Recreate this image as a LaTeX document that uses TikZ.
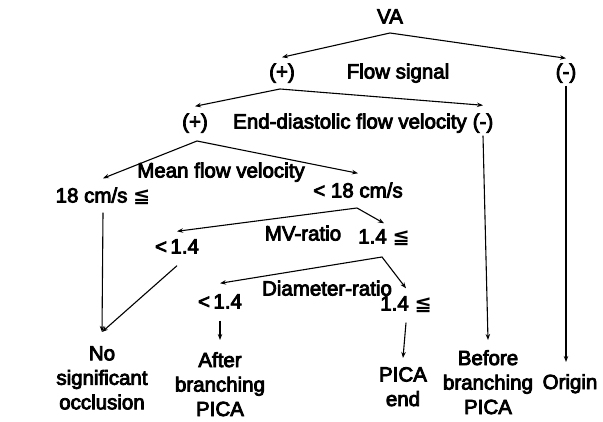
\documentclass[tikz,border=0pt]{standalone}
\usepackage{fontspec}
\setmainfont{Liberation Sans}
\newfontfamily\diagfam{Liberation Sans}[FakeBold=4]
\newfontfamily\symfont{DejaVu Sans}
\usetikzlibrary{arrows.meta}
\newcommand{\diagfont}{\diagfam\fontsize{20.5}{24.5}\selectfont}
\newcommand{\leqqmark}{{\symfont\bfseries ≦}}
\tikzset{
  lbl/.style={font=\diagfont,inner sep=0pt,text height=15pt,text depth=4pt},
  outcome/.style={font=\diagfont,inner sep=0pt,align=center,anchor=north},
  fork/.style={{Stealth[length=6pt,width=4.5pt]}-{Stealth[length=6pt,width=4.5pt]},line width=1.1pt},
  arr/.style={-{Stealth[length=6pt,width=4.5pt]},line width=1.1pt}
}
\begin{document}
\begin{tikzpicture}[x=1pt,y=1pt]
  \useasboundingbox (0,0) rectangle (603,422);

  \node[lbl] (va) at (390,404) {VA};
  \node[lbl] (plusA) at (282,349) {(+)};
  \node[lbl] (flowSig) at (398,349) {Flow signal};
  \node[lbl] (minusA) at (566,349) {(-)};
  \node[lbl] (plusB) at (195,299) {(+)};
  \node[lbl] (edfv) at (350,299) {End-diastolic flow velocity};
  \node[lbl] (minusB) at (483,299) {(-)};
  \node[lbl] (meanFv) at (221,250) {Mean flow velocity};
  \node[lbl] (geA) at (103,225) {18 cm/s \leqqmark};
  \node[lbl] (ltA) at (358,230) {< 18 cm/s};
  \node[lbl] (mvRatio) at (303,187) {MV-ratio};
  \node[lbl] (ltB) at (177,174) {<\,1.4};
  \node[lbl] (geB) at (384,184) {1.4 \leqqmark};
  \node[lbl] (diamRatio) at (327,132) {Diameter-ratio};
  \node[lbl] (ltC) at (220,119) {<\,1.4};
  \node[lbl] (geC) at (406,117) {1.4 \leqqmark};

  \node[outcome] (noOcc) at (102,76) {No\\significant\\occlusion};
  \node[outcome] (afterPica) at (220,70) {After\\branching\\PICA};
  \node[outcome] (picaEnd) at (403,55) {PICA\\end};
  \node[outcome] (beforePica) at (488,72) {Before\\branching\\PICA};
  \node[outcome] (origin) at (570,48) {Origin};

  \coordinate (forkA) at (390,389);
  \coordinate (forkB) at (280,333);
  \coordinate (forkC) at (197,281);
  \coordinate (forkD) at (357,214);
  \coordinate (forkE) at (382,165);
  \coordinate (noTip) at ([yshift=14pt]noOcc.north);

  \draw[fork] ([yshift=6pt]plusA.north) -- (forkA) -- ([yshift=5pt]minusA.north);
  \draw[fork] ([yshift=7pt]plusB.north) -- (forkB) -- ([yshift=8pt]minusB.north);
  \draw[fork] ([yshift=9pt]geA.north) -- (forkC) -- ([yshift=9pt]ltA.north);
  \draw[fork] ([yshift=7pt]ltB.north) -- (forkD) -- ([yshift=5pt]geB.north);
  \draw[fork] ([yshift=10pt]ltC.north) -- (forkE) -- ([yshift=7pt]geC.north);

  \draw[arr] ([yshift=-6pt]geA.south) -- (noTip);
  \draw[arr] ([yshift=-8pt]ltB.south) -- (noTip);
  \draw[arr] ([yshift=-8pt]ltC.south) -- ([yshift=12pt]afterPica.north);
  \draw[arr] ([yshift=-8pt]geC.south) -- ([yshift=9pt]picaEnd.north);
  \draw[arr] ([yshift=-3pt]minusB.south) -- ([yshift=10pt]beforePica.north);
  \draw[arr] ([yshift=-3pt]minusA.south) -- ([yshift=12pt]minusA.south |- origin.north);
\end{tikzpicture}
\end{document}
